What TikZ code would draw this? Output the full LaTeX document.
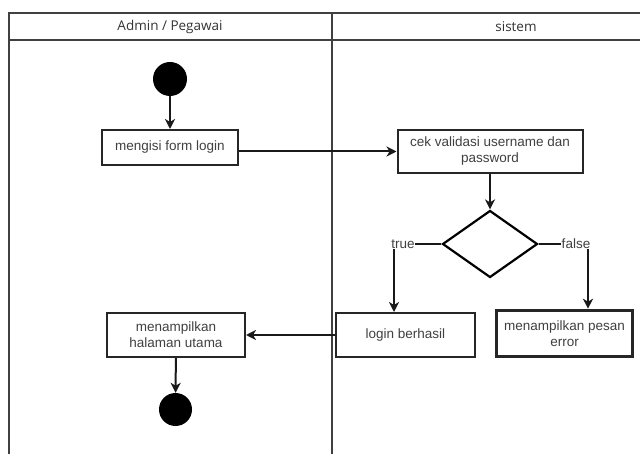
\documentclass[tikz,border=0pt]{standalone}
\usepackage{fontspec}
\setmainfont{Liberation Sans}
\newfontfamily\headfont{Open Sans}
\usepackage{tikz}
\usetikzlibrary{arrows.meta,shapes.geometric}

\tikzset{
  act/.style={shape=rectangle,draw=black!85,line width=2pt,fill=white,align=center,
    inner sep=0pt,font=\fontsize{13.5}{16}\selectfont,text=black!75},
  dot/.style={shape=circle,fill=black,inner sep=0pt},
  dec/.style={shape=diamond,draw=black,line width=2.2pt,inner sep=0pt},
  arr/.style={-{Stealth[length=10pt,width=10pt,inset=3pt]},line width=2pt,black!90},
  lbl/.style={fill=white,inner sep=0.5pt,font=\fontsize{13.5}{16}\selectfont,text=black!75},
  lane/.style={line width=2.4pt,black!75},
  head/.style={font=\headfont\fontsize{13.5}{16}\selectfont,text=black!80}
}

\begin{document}
\begin{tikzpicture}[x=1pt,y=-1pt]
    \useasboundingbox (0,0) rectangle (640,454);
    % swimlanes
    \draw[lane] (9,454) -- (9,13) -- (640,13);
    \draw[lane] (9,40) -- (640,40);
    \draw[lane] (332,13) -- (332,454);
    \node[head] (hadmin) at (170,27) {Admin / Pegawai};
    \node[head] (hsis) at (516,27) {sistem};
    % nodes
    \node[dot,minimum size=34pt] (start) at (170,79) {};
     \node[act,minimum width=136pt,minimum height=35pt] (form) at (170,147.5) {mengisi form login};
      \node[act,minimum width=185pt,minimum height=43pt] (cek) at (490,151.5) {cek validasi username dan\\password};
       \node[dec,minimum width=95pt,minimum height=67pt] (valid) at (490,244) {};
    \node[act,minimum width=139pt,minimum height=44pt] (login) at (405.5,335) {login berhasil};
    \node[act,line width=3.6pt,minimum width=136pt,minimum height=46pt] (err) at (564.5,333.5) {menampilkan pesan\\error};
    \node[act,minimum width=138pt,minimum height=44pt] (home) at (176,335) {menampilkan\\halaman utama};
    \node[dot,minimum size=33pt] (stop) at (175.5,409.5) {};
    \coordinate (tc) at (394,244);
    \coordinate (fc) at (588,244);
    % flows
    \path [arr] (start) edge (form);
    \path [arr] (form.east |- cek.west) edge (cek.west);
    \path [arr] (cek) edge (valid);
    \draw [arr] (valid.west) -- (tc) -- (tc |- login.north);
    \draw [arr] (valid.east) -- (fc) -- (fc |- err.north);
    \node[lbl] (ltrue) at (403,244) {true};
    \node[lbl] (lfalse) at (576,244) {false};
    \path [arr] (login) edge (home);
    \path [arr] (home) edge (stop);
\end{tikzpicture}
\end{document}
